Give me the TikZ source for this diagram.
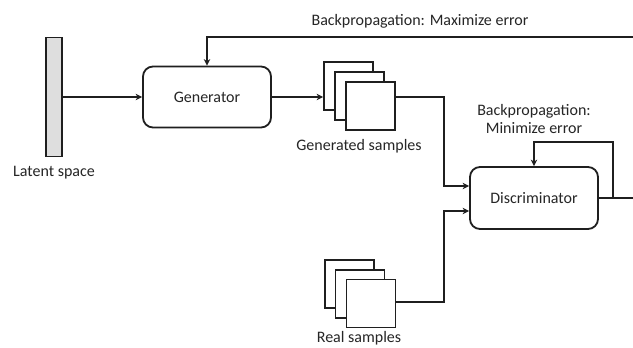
\documentclass[tikz,border=0pt]{standalone}
\usepackage{fontspec}
\setmainfont{Carlito}
\usetikzlibrary{arrows.meta}
\begin{document}
\begin{tikzpicture}[x=1bp,y=-1bp,
  font=\fontsize{16bp}{19bp}\selectfont,
  every node/.style={text=black!85},
  ln/.style={line width=1.8bp, draw=black!88},
  arr/.style={ln,-{Stealth[length=6.5bp,width=6.5bp,inset=2bp]}},
  blk/.style={ln, rounded corners=10bp, minimum width=128bp, inner sep=0pt},
  sq/.style={ln, fill=white, minimum width=49bp, minimum height=48bp, inner sep=0pt},
  lbl/.style={anchor=base, inner sep=0pt}]
\useasboundingbox[fill=white] (0,0) rectangle (633,347);

% latent space bar
\node[ln, fill=black!13, minimum width=16bp, minimum height=119bp, inner sep=0pt] (lat) at (54,97) {};
\node[lbl] (latl) at (54,176) {Latent space};

% generator / discriminator
\node[blk, minimum height=61bp] (gen) at (207,97) {Generator};
\node[blk, minimum height=62bp] (disc) at (534,198) {Discriminator};

% generated samples stack
\node[sq] (g1) at (348.5,86) {};
\node[sq] (g2) at (359.5,96) {};
\node[sq] (g3) at (370.5,106) {};
\node[lbl] (gl) at (359,150) {Generated samples};

% real samples stack
\node[sq] (r1) at (349.5,284) {};
\node[sq] (r2) at (360,294) {};
\node[sq] (r3) at (371,303.5) {};
\node[lbl] (rl) at (359,342) {Real samples};

% labels
\node[lbl] (bpmax) at (420,25.5) {Backpropagation: Maximize error};
\node[lbl] (bpmin1) at (534,115) {Backpropagation:};
\node[lbl] (bpmin2) at (534,133) {Minimize error};

% connector helper coordinates
\coordinate (topR) at (633,37);
\coordinate (topG) at (207,37);
\coordinate (outR) at (633,198);
\coordinate (fbB) at (613,198);
\coordinate (fbT) at (613,142);
\coordinate (fbL) at (534,142);
\coordinate (gA) at (395,97);
\coordinate (gB) at (444,97);
\coordinate (gC) at (444,186);
\coordinate (rA) at (396,302);
\coordinate (rB) at (444,302);
\coordinate (rC) at (444,211);

% connectors
\draw[arr] (lat.east) -- (gen.west);
\draw[arr] (gen.east) -- (gen.east -| g1.west);
\draw[arr] (topR) -- (topG) -- (gen.north);
\draw[arr] (gA) -- (gB) -- (gC) -- (gC -| disc.west);
\draw[arr] (rA) -- (rB) -- (rC) -- (rC -| disc.west);
\draw[ln] (disc.east) -- (outR);
\draw[arr] (fbB) -- (fbT) -- (fbL) -- (disc.north);
\end{tikzpicture}
\end{document}
